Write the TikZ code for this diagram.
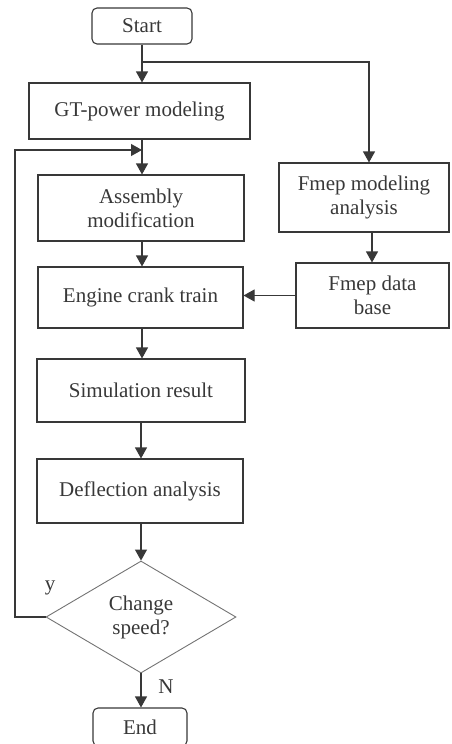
\documentclass[tikz,border=0pt]{standalone}
\usepackage{fontspec}
\setmainfont{Liberation Serif}
\usetikzlibrary{shapes.geometric,arrows.meta}
\colorlet{ink}{black!78}
\tikzset{
  txt/.style = {text=ink,font=\fontsize{21}{24}\selectfont},
  box/.style = {txt,draw=ink,line width=1.1pt,align=center,inner sep=0pt},
  term/.style = {box,rounded corners=5pt},
  decide/.style = {txt,diamond,draw=black!55,line width=0.9pt,
    align=center,inner sep=0pt,aspect=1.7}
}
\tikzset{>={Triangle[length=11pt,width=12pt]}}

\begin{document}
\begin{tikzpicture}[x=1pt,y=-1pt,line width=1.1pt,draw=ink]
  \useasboundingbox (0,0) rectangle (451,744);
  \node[term,minimum width=100,minimum height=36] (start) at (142,26) {Start};
  \node[box,minimum width=221,minimum height=56] (gt) at (139.5,111) {GT-power modeling};
  \node[box,minimum width=206,minimum height=66] (asm) at (141,208) {Assembly\\modification};
  \node[box,minimum width=205,minimum height=61] (eng) at (140.5,297.5) {Engine crank train};
  \node[box,minimum width=208,minimum height=63] (sim) at (141,390.5) {Simulation result};
  \node[box,minimum width=206,minimum height=64] (defl) at (140,491) {Deflection analysis};
  \node[decide,minimum width=190,minimum height=112] (speed) at (141,617) {Change\\speed?};
  \node[term,minimum width=94,minimum height=38] (end) at (140,727) {End};
  \node[box,minimum width=170,minimum height=69] (fmod) at (364,197.5) {Fmep modeling\\analysis};
  \node[box,minimum width=153,minimum height=65] (fdb) at (372.5,295.5) {Fmep data\\base};
  % main column
  \coordinate (split) at (142,62);
  \coordinate (back) at (142,150);
  \coordinate (turn) at (369,62);
  \coordinate (down) at (372,232);
  \coordinate (corner) at (15,617);
  \draw[->] (start.south -| split) -- (gt.north -| split);
  \draw (gt.south -| back) -- (back);
  \draw[->] (back) -- (asm.north -| back);
  \draw[->] (asm.south -| back) -- (eng.north -| back);
  \draw[->] (eng.south -| back) -- (sim.north -| back);
  \draw[->] (sim.south -| speed) -- (defl.north -| speed);
  \draw[->] (defl.south -| speed) -- (speed.north);
  \draw[->] (speed.south) -- (end.north -| speed);
  % Fmep branch
  \draw[->] (split) -- (turn) -- (turn |- fmod.north);
  \draw[->] (fmod.south -| down) -- (fdb.north -| down);
  \draw[->] (fdb.west) -- (eng.east |- fdb.west);
  % loop back
  \draw[->] (speed.west) -- (corner) |- (back);
  \node[txt] (yes) at (50,588) {y};
  \node[txt] (no) at (166,687) {N};
\end{tikzpicture}
\end{document}
